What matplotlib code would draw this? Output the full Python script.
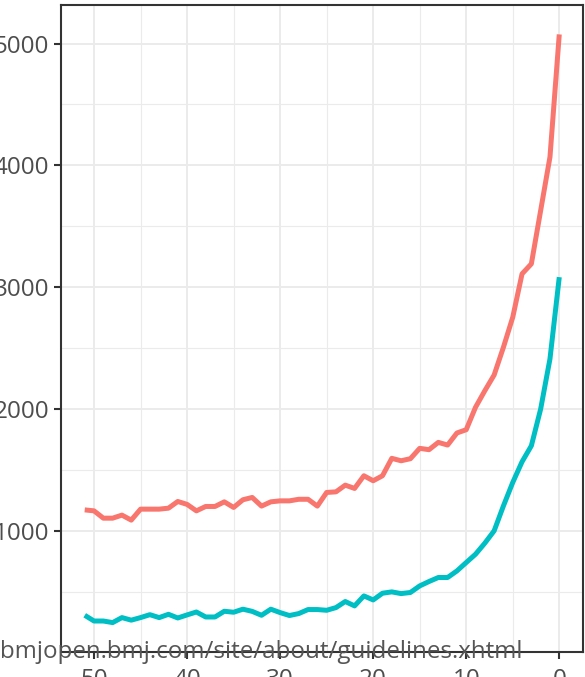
import matplotlib
matplotlib.use("Agg")
import matplotlib.pyplot as plt
from matplotlib.ticker import MultipleLocator

# Weeks before event (x) and counts for the two groups
weeks = list(range(51, -1, -1))

group_a = [1173, 1165, 1105, 1105, 1130, 1089, 1179, 1179, 1179, 1187,
           1242, 1218, 1165, 1201, 1201, 1239, 1193, 1256, 1275, 1204,
           1239, 1247, 1247, 1260, 1260, 1204, 1316, 1321, 1376, 1349,
           1453, 1412, 1453, 1596, 1576, 1593, 1678, 1667, 1727, 1705,
           1804, 1831, 2015, 2151, 2280, 2508, 2754, 3110, 3192, 3630,
           4069, 5075]

group_b = [308, 261, 261, 248, 289, 268, 289, 313, 289, 316,
           286, 311, 335, 294, 294, 341, 333, 358, 340, 308,
           358, 330, 306, 322, 355, 355, 349, 371, 421, 385,
           467, 434, 489, 500, 486, 495, 549, 585, 618, 618,
           672, 741, 809, 900, 1001, 1206, 1398, 1568, 1699, 2001,
           2412, 3083]

x_ticks = [0, 10, 20, 30, 40, 50]
y_ticks = [1000, 2000, 3000, 4000, 5000]
watermark = "bmjopen.bmj.com/site/about/guidelines.xhtml"

plt.rcParams["font.family"] = ["Open Sans", "DejaVu Sans"]

fig = plt.figure(figsize=(5.85, 6.77), dpi=100)
ax = fig.add_axes([61 / 585, 25 / 677, 522 / 585, 647 / 677])

ax.plot(weeks, group_a, color="#F8766D", lw=3.6, solid_capstyle="butt",
        solid_joinstyle="round", zorder=3)
ax.plot(weeks, group_b, color="#00BFC4", lw=3.6, solid_capstyle="butt",
        solid_joinstyle="round", zorder=3)

allv = group_a + group_b
lo, hi = min(allv), max(allv)
pad = 0.05 * (hi - lo)
ax.set_ylim(lo - pad, hi + pad)
xpad = 0.05 * (max(weeks) - min(weeks))
ax.set_xlim(max(weeks) + xpad, min(weeks) - xpad)

ax.set_xticks(x_ticks)
ax.set_yticks(y_ticks)
ax.xaxis.set_minor_locator(MultipleLocator(5))
ax.yaxis.set_minor_locator(MultipleLocator(500))

ax.grid(which="major", color="#EBEBEB", lw=1.4, zorder=0)
ax.grid(which="minor", color="#EBEBEB", lw=0.8, zorder=0)
ax.set_axisbelow(True)

for s in ax.spines.values():
    s.set_color("#333333")
    s.set_linewidth(1.5)

ax.tick_params(which="major", length=5, width=1.5, color="#333333",
               labelcolor="#4D4D4D", labelsize=17.5)
ax.tick_params(axis="y", which="major", pad=3.5)
ax.tick_params(axis="x", which="major", pad=6.5)
ax.tick_params(which="minor", length=0)

fig.text(0.0, 1 - 658 / 677, watermark, ha="left", va="baseline",
         fontsize=17.4, color="#555555", zorder=10)

fig.savefig("out.png", dpi=100)
